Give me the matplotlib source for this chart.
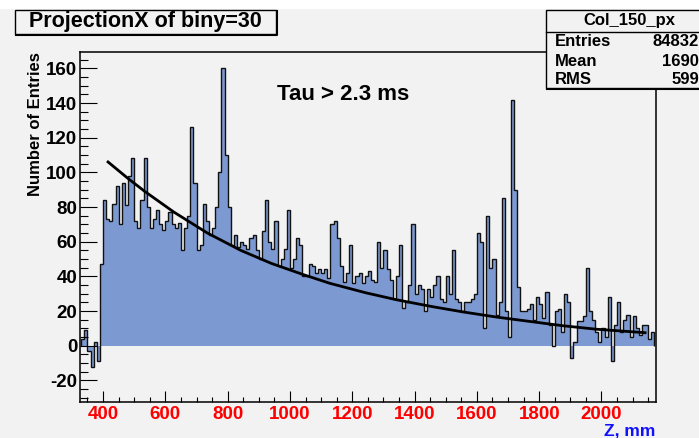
import numpy as np
import matplotlib
matplotlib.use('Agg')
import matplotlib.pyplot as plt
from matplotlib.patches import Rectangle
from matplotlib.ticker import MultipleLocator

plt.rcParams['font.family'] = ['Liberation Sans', 'DejaVu Sans']
plt.rcParams['font.weight'] = 'bold'
plt.rcParams['axes.unicode_minus'] = False

# histogram: first bin edge and width (mm), counts
bin_lo = 330
bin_w = 10
counts = [
    4, 9, -3, -12, 2, -9, 47,                                   # 330-390
    84, 73, 72, 82, 92, 70, 94, 81, 98, 108,                    # 400-490
    72, 68, 84, 108, 80, 68, 73, 78, 70, 67,                    # 500-590
    72, 77, 70, 68, 71, 55, 68, 75, 126, 94,                    # 600-690
    55, 58, 82, 72, 64, 68, 80, 100, 160, 110,                  # 700-790
    80, 58, 64, 57, 60, 58, 56, 62, 64, 55,                     # 800-890
    50, 66, 84, 60, 56, 72, 46, 50, 56, 78,                     # 900-990
    45, 50, 62, 58, 40, 40, 47, 46, 42, 44,                     # 1000-1090
    42, 44, 39, 70, 72, 62, 46, 37, 42, 58,                     # 1100-1190
    36, 40, 42, 36, 40, 43, 38, 37, 60, 45,                     # 1200-1290
    55, 44, 38, 27, 40, 58, 22, 25, 35, 70,                     # 1300-1390
    30, 35, 33, 20, 33, 28, 35, 40, 27, 25,                     # 1400-1490
    40, 30, 55, 27, 25, 20, 25, 25, 27, 30,                     # 1500-1590
    65, 60, 10, 75, 45, 50, 18, 25, 85, 20,                     # 1600-1690
    5, 142, 90, 34, 20, 20, 21, 24, 15, 28,                     # 1700-1790
    24, 16, 31, 12, 0, 20, 21, 8, 30, 25,                       # 1800-1890
    -7, 2, 14, 14, 17, 45, 20, 15, 8, 2,                        # 1900-1990
    10, 5, 28, -9, 12, 25, 8, 15, 18, 5,                        # 2000-2090
    17, 10, 6, 12, 12, 4, 8,                                    # 2100-2160
]
edges = bin_lo + bin_w * np.arange(len(counts) + 1)

# fitted curve, points
fit_z = [416, 480, 534, 628, 735, 842, 940, 1043, 1128, 1244, 1342,
         1458, 1555, 1664, 1770, 1877, 1984, 2140]
fit_v = [106, 96.5, 89, 77, 65, 55, 47.5, 41, 36, 30.5, 26.5,
         22.5, 19.5, 16.5, 14, 11.5, 9.5, 7.5]

title = 'ProjectionX of biny=30'
note = 'Tau > 2.3 ms'
stat_name = 'Col_150_px'
stat_rows = ['Entries', 'Mean', 'RMS']
stat_vals = ['84832', '1690', '599']

W, H = 699, 438
bg = '#f2f2f2'


def fx(x):
    return x / W


def fy(y):
    return 1 - y / H


fig = plt.figure(figsize=(W / 100, H / 100), dpi=100, facecolor=bg)
ax = fig.add_axes([fx(80), fy(401.7), (655.7 - 80) / W, (401.7 - 51.7) / H])
ax.set_facecolor(bg)

ax.stairs(counts, edges, baseline=0, fill=True, color='#7d99d1', lw=0)
ax.stairs(counts, edges, baseline=0, color='#111111', lw=1.0)
ax.plot(fit_z, fit_v, color='black', lw=2.0)

ax.set_xlim(326, 2174)
ax.set_ylim(-32.3, 169.6)
ax.xaxis.set_major_locator(MultipleLocator(200))
ax.xaxis.set_minor_locator(MultipleLocator(50))
ax.yaxis.set_major_locator(MultipleLocator(20))
ax.yaxis.set_minor_locator(MultipleLocator(5))
ax.tick_params(axis='y', which='major', direction='in', length=12.2, width=0.8,
               pad=2, labelsize=13.5)
ax.tick_params(axis='y', which='minor', direction='in', length=6.1, width=0.8)
ax.tick_params(axis='x', which='major', direction='in', length=7.9, width=0.8,
               pad=3, labelsize=13.5, labelcolor='red')
ax.tick_params(axis='x', which='minor', direction='in', length=3.6, width=0.8)
for s in ax.spines.values():
    s.set_linewidth(1.1)

fig.text(fx(277), fy(95), note, fontsize=16, fontweight='bold', va='center')

fig.text(fx(36), fy(52), 'Number of Entries', rotation=90, ha='center',
         va='top', fontsize=12, fontweight='bold')
fig.text(fx(655), fy(431), 'Z, mm', ha='right', va='center', fontsize=12.5,
         fontweight='bold', color='#1010ff')

# white strip at the very top of the screenshot
fig.patches.append(Rectangle((0, fy(9)), 1, 9 / H, transform=fig.transFigure,
                             facecolor='white', edgecolor='none', zorder=0.5))

# title box
fig.patches.append(Rectangle((fx(15), fy(34)), 261 / W, 24 / H,
                             transform=fig.transFigure, facecolor=bg,
                             edgecolor='black', lw=1, zorder=2))
fig.lines.append(plt.Line2D([fx(16), fx(277), fx(277)], [fy(35), fy(35), fy(11)],
                            transform=fig.transFigure, color='black', lw=1.5,
                            zorder=2))
fig.text(fx(145.5), fy(22), title, ha='center', va='center', fontsize=15.5,
         fontweight='bold', zorder=3)

# stats box
fig.patches.append(Rectangle((fx(546), fy(88)), 200 / W, 78 / H,
                             transform=fig.transFigure, facecolor=bg,
                             edgecolor='black', lw=1, zorder=2))
fig.lines.append(plt.Line2D([fx(547), fx(700)], [fy(89), fy(89)],
                            transform=fig.transFigure, color='black', lw=1.5,
                            zorder=2))
fig.lines.append(plt.Line2D([fx(546), fx(700)], [fy(32), fy(32)],
                            transform=fig.transFigure, color='black', lw=1,
                            zorder=3))
fig.text(fx(629), fy(21), stat_name, ha='center', va='center', fontsize=12,
         fontweight='bold', zorder=3)
for name, val, y in zip(stat_rows, stat_vals, [41, 61, 80]):
    fig.text(fx(555), fy(y), name, ha='left', va='center', fontsize=12,
             fontweight='bold', zorder=3)
    fig.text(fx(699), fy(y), val, ha='right', va='center', fontsize=12,
             fontweight='bold', zorder=3)

fig.savefig('out.png', dpi=100, facecolor=bg)
